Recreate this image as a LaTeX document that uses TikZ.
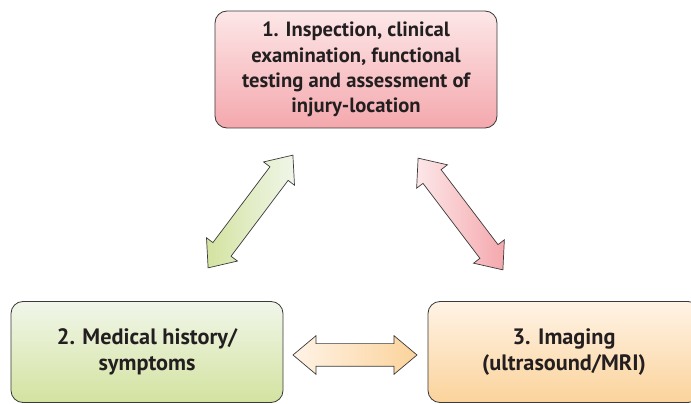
\documentclass[tikz,border=0pt]{standalone}
\usepackage{fontspec}
\setmainfont{PT Sans}
\usetikzlibrary{shapes.arrows,calc}
\definecolor{boxline}{HTML}{3A3A3A}
\definecolor{txt}{HTML}{231F20}
\definecolor{pinktop}{HTML}{FDE7E8}
\definecolor{pinkbot}{HTML}{F4A8AD}
\definecolor{greentop}{HTML}{F1F6EA}
\definecolor{greenbot}{HTML}{D3E3A0}
\definecolor{orangetop}{HTML}{FFF3E6}
\definecolor{orangebot}{HTML}{FBD39B}
\tikzset{
box/.style={draw=boxline, line width=0.7pt, rounded corners=0.36cm, align=center, text=txt},
fatarrow/.style={double arrow, draw=boxline, line width=0.6pt, inner xsep=0pt, inner ysep=0.33cm,
  double arrow head extend=0.24cm, double arrow tip angle=80}
}
\begin{document}
\begin{tikzpicture}[x=0.03cm,y=-0.03cm]
\useasboundingbox (0,0) rectangle (691,404);
\clip (0,0) rectangle (691,404);
\node[box, top color=pinktop, bottom color=pinkbot, minimum width=8.46cm, minimum height=3.51cm,
 font=\bfseries\fontsize{17.6}{21.6}\selectfont]
 (exam) at (356,69.5) {1. Inspection, clinical\\examination, functional\\testing and assessment of\\injury-location};
\node[box, top color=greentop, bottom color=greenbot, minimum width=8.16cm, minimum height=3.03cm,
 font=\bfseries\fontsize{19}{22.2}\selectfont]
 (hist) at (147,352) {2. Medical history/\\symptoms};
\node[box, top color=orangetop, bottom color=orangebot, minimum width=8.16cm, minimum height=3.03cm,
 font=\bfseries\fontsize{19}{22.2}\selectfont]
 (imag) at (564,352) {3. Imaging\\(ultrasound/MRI)};
% arrow ends
\coordinate (gA) at (208,268);
\coordinate (gB) at (293,155);
\coordinate (rA) at (418,158);
\coordinate (rB) at (503,270);
\coordinate (oA) at (293,355);
\coordinate (oB) at (417,355);
\path let \p1=($(gB)-(gA)$), \n1={veclen(\x1,\y1)}, \n2={atan2(\y1,\x1)} in
 node[fatarrow, left color=greenbot, right color=greentop, minimum height=\n1, rotate=\n2]
 (histexam) at ($(gA)!0.5!(gB)$) {};
\path let \p1=($(rB)-(rA)$), \n1={veclen(\x1,\y1)}, \n2={atan2(\y1,\x1)} in
 node[fatarrow, left color=pinktop, right color=pinkbot, minimum height=\n1, rotate=\n2]
 (examimag) at ($(rA)!0.5!(rB)$) {};
\path let \p1=($(oB)-(oA)$), \n1={veclen(\x1,\y1)} in
 node[fatarrow, left color=orangetop, right color=orangebot, minimum height=\n1]
 (histimag) at ($(oA)!0.5!(oB)$) {};
\end{tikzpicture}
\end{document}
